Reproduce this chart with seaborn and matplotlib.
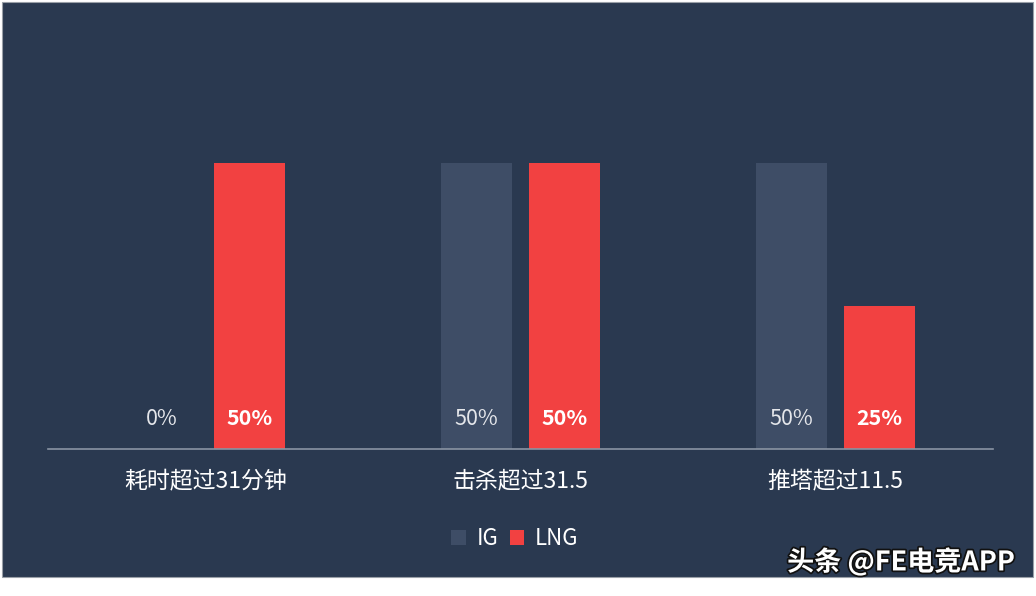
import pandas as pd
import numpy as np
import matplotlib.pyplot as plt
import matplotlib.patheffects as pe
from matplotlib.patches import Rectangle
import seaborn as sns

categories = ["耗时超过31分钟", "击杀超过31.5", "推塔超过11.5"]
teams = ["IG", "LNG"]
ig_values = [0, 50, 50]
lng_values = [50, 50, 25]

df = pd.DataFrame({
    "category": categories * 2,
    "team": ["IG"] * 3 + ["LNG"] * 3,
    "value": ig_values + lng_values,
})

bg = "#2a3950"
colors = {"IG": "#3e4d66", "LNG": "#f24141"}

sns.set_theme(style="white")
plt.rcParams['font.family'] = ['Noto Sans CJK SC', 'DejaVu Sans']

fig = plt.figure(figsize=(10.36, 5.96), dpi=100)
fig.patch.set_facecolor("white")
panel = Rectangle((2 / 1036, 19 / 596), 1031 / 1036, 575 / 596,
                  transform=fig.transFigure, facecolor=bg,
                  edgecolor="#9aa0a8", linewidth=0.8, zorder=-10)
fig.add_artist(panel)

ax = fig.add_axes([48 / 1036, 1 - 449 / 596, 945 / 1036, 286 / 596])
ax.set_zorder(1)
ax.set_facecolor("none")
sns.barplot(data=df, x="category", y="value", hue="team", palette=colors,
            width=0.56, gap=0.2, saturation=1, linewidth=0, ax=ax, legend=True)
ax.set_ylim(0, 50)
ax.set_xlim(-0.5, 2.5)

# value labels near the base of each bar
for cont, team in zip(ax.containers, teams):
    vals = ig_values if team == "IG" else lng_values
    for bar, v in zip(cont, vals):
        x = bar.get_x() + bar.get_width() / 2
        ax.text(x, 5.3, f"{v}%", ha="center", va="center",
                fontsize=15.5, color="white" if team == "LNG" else "#e4e6ea",
                fontweight="bold" if team == "LNG" else "normal")

for s in ["top", "right", "left"]:
    ax.spines[s].set_visible(False)
ax.spines["bottom"].set_color("#8a94a3")
ax.spines["bottom"].set_linewidth(1.2)
ax.set_yticks([])
ax.set_xlabel("")
ax.set_ylabel("")
ax.tick_params(axis="x", length=0, pad=15, labelsize=16.5, labelcolor="white")

handles, labels = ax.get_legend_handles_labels()
for h in handles:
    h.set_edgecolor("none")
ax.legend(handles, labels, loc="center", bbox_to_anchor=(0.497, 0.096),
          bbox_transform=fig.transFigure, ncol=2, frameon=False,
          handlelength=0.65, handleheight=0.65, handletextpad=0.5,
          columnspacing=0.5, fontsize=16, labelcolor="white")

fig.text(1015 / 1036, 1 - 562 / 596, "头条 @FE电竞APP", ha="right", va="center",
         fontsize=19.5, color="white", fontweight="bold",
         path_effects=[pe.withStroke(linewidth=2.5, foreground="#111111")])

fig.savefig("out.png", dpi=100)
